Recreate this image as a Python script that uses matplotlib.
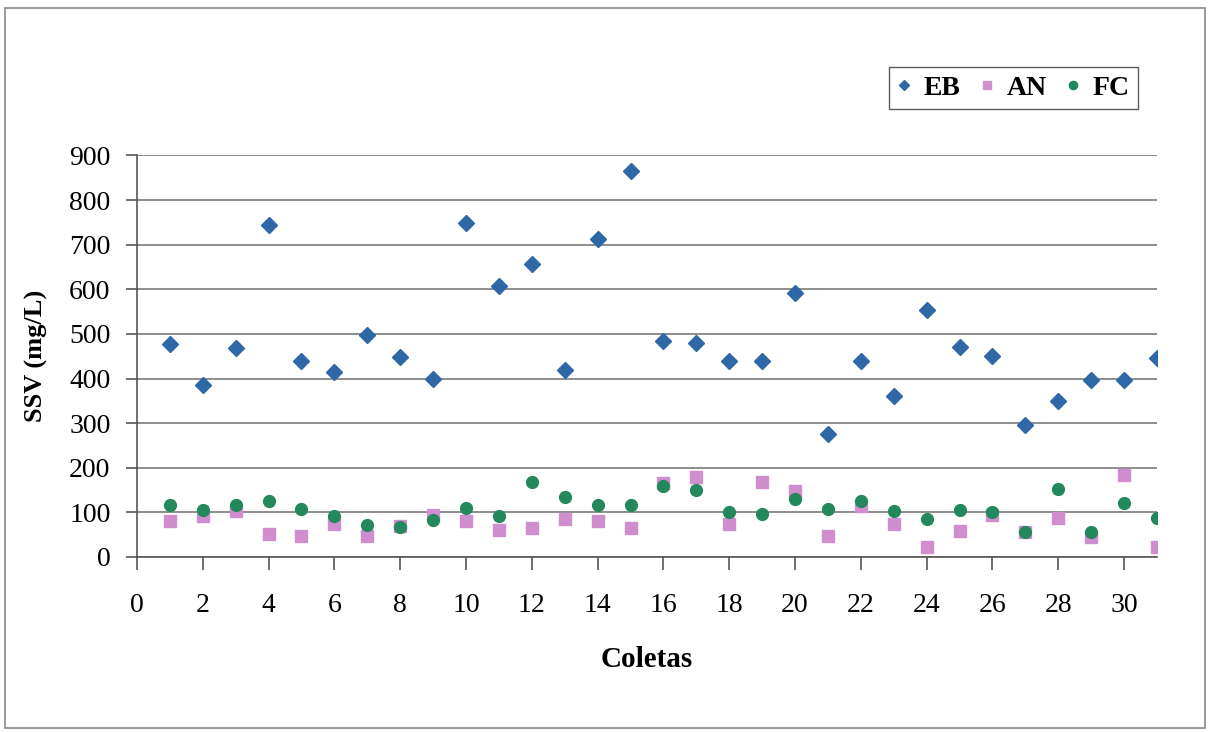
import numpy as np
import matplotlib.pyplot as plt
from matplotlib.patches import Rectangle

# SSV por coleta em cada ponto de amostragem
coletas = np.arange(1, 32)
eb = [477, 386, 468, 744, 440, 415, 497, 448, 399, 748, 608, 657, 419, 712, 866,
      485, 480, 439, 439, 591, 275, 439, 361, 554, 471, 450, 295, 349, 397, 397, 446]
an = [80, 92, 102, 52, 47, 74, 47, 70, 95, 80, 60, 64, 85, 80, 64,
      166, 179, 75, 167, 147, 47, 115, 75, 23, 58, 95, 55, 87, 45, 183, 23]
fc = [117, 105, 117, 126, 108, 92, 71, 68, 83, 109, 92, 167, 134, 117, 117,
      159, 150, 100, 96, 129, 108, 125, 104, 85, 105, 100, 55, 153, 56, 121, 87]

plt.rcParams['font.family'] = 'Liberation Serif'

fig = plt.figure(figsize=(12.1, 7.32), dpi=100)
ax = fig.add_axes([0.1132, 0.2391, 0.8430, 0.5485])

ax.plot(coletas, eb, linestyle='None', marker='D', markersize=8, color='#2f68a6', label='EB')
ax.plot(coletas, an, linestyle='None', marker='s', markersize=8, color='#cf8fcf', label='AN')
ax.plot(coletas, fc, linestyle='None', marker='o', markersize=8.5, color='#23885c', label='FC')

ax.set_xlim(0, 31)
ax.set_ylim(0, 900)
ax.set_xticks(np.arange(0, 31, 2))
ax.set_yticks(np.arange(0, 901, 100))
ax.grid(axis='y', color='#7a7a7a', linewidth=1.2)
ax.set_axisbelow(True)
for s in ['top', 'right']:
    ax.spines[s].set_visible(False)
for s in ['left', 'bottom']:
    ax.spines[s].set_color('#555555')
    ax.spines[s].set_linewidth(1.2)
ax.tick_params(axis='x', direction='out', length=9, width=1.2, color='#555555',
               labelsize=20, pad=17)
ax.tick_params(axis='y', direction='out', length=8, width=1.2, color='#555555',
               labelsize=20, pad=11)

ax.set_xlabel('Coletas', fontsize=21, fontweight='bold', labelpad=20)
ax.set_ylabel('SSV (mg/L)', fontsize=19, fontweight='bold', labelpad=15)

leg = fig.legend(loc='center', bbox_to_anchor=(0.8375, 0.8795), ncol=3,
                 prop={'weight': 'bold', 'size': 20},
                 frameon=True, fancybox=False, edgecolor='#333333',
                 handlelength=0.5, handletextpad=0.45, columnspacing=0.7,
                 borderpad=0.3, borderaxespad=0.2, markerscale=0.7)
leg.get_frame().set_linewidth(1.0)

# moldura externa do gráfico
fig.patches.append(Rectangle((0.004, 0.006), 0.992, 0.983, transform=fig.transFigure,
                             fill=False, edgecolor='#888888', linewidth=1.2))

fig.savefig('out.png', dpi=100)
